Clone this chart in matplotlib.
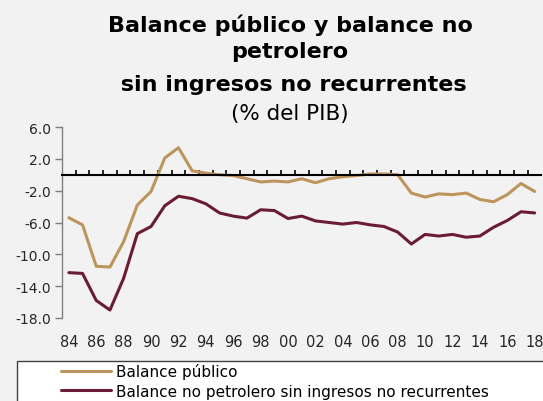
import matplotlib.pyplot as plt
from matplotlib.patches import Rectangle
import numpy as np

years = list(range(1984, 2019))
balance_publico = [-5.4, -6.3, -11.5, -11.6, -8.4, -3.8, -2.1, 2.1, 3.4, 0.5,
                   0.2, 0.0, -0.1, -0.5, -0.9, -0.8, -0.9, -0.5, -1.0, -0.5,
                   -0.25, -0.1, 0.1, 0.1, 0.0, -2.3, -2.8, -2.4, -2.5, -2.3,
                   -3.1, -3.4, -2.5, -1.1, -2.1]
balance_no_petrolero = [-12.3, -12.4, -15.8, -17.0, -13.0, -7.4, -6.5, -3.9, -2.7, -3.0,
                        -3.65, -4.8, -5.2, -5.45, -4.4, -4.5, -5.5, -5.2, -5.8, -6.0,
                        -6.2, -6.0, -6.3, -6.5, -7.2, -8.7, -7.5, -7.7, -7.5, -7.85,
                        -7.7, -6.6, -5.75, -4.65, -4.8]
yticks = [6.0, 2.0, -2.0, -6.0, -10.0, -14.0, -18.0]
series_names = ["Balance público", "Balance no petrolero sin ingresos no recurrentes"]
title_lines = ["Balance público y balance no", "petrolero", " sin ingresos no recurrentes"]
subtitle = "(% del PIB)"

bg = '#f2f2f2'
fig = plt.figure(figsize=(5.43, 4.02), dpi=100, facecolor=bg)
ax = fig.add_axes([62/543, 1-319/402, 479.5/543, 191/402])
ax.set_facecolor(bg)

l1, = ax.plot(years, balance_publico, color='#BC955C', lw=2.2, solid_capstyle='round')
l2, = ax.plot(years, balance_no_petrolero, color='#691C32', lw=2.2, solid_capstyle='round')

ax.set_xlim(1983.5, 2018.5)
ax.set_ylim(-18, 6)
ax.set_yticks(yticks, [f"{v:.1f}" for v in yticks])
for s in ['top', 'right']:
    ax.spines[s].set_visible(False)
ax.spines['bottom'].set_position(('data', 0))
ax.spines['bottom'].set_color('black')
ax.spines['bottom'].set_linewidth(1.5)
ax.spines['left'].set_color('#7f7f7f')
ax.spines['left'].set_linewidth(1.0)
ax.set_xticks(np.arange(1984.5, 2018.5, 1))
ax.tick_params(axis='x', direction='in', length=3.5, width=1.2, color='black', labelbottom=False)
ax.tick_params(axis='y', direction='out', length=5, width=1.0, color='#7f7f7f',
               labelsize=10, labelcolor='#262626', pad=3)

sec = ax.secondary_xaxis(location=-0.06)
sec.spines['bottom'].set_visible(False)
sec.set_xticks(years[::2], [f"{y % 100:02d}" for y in years[::2]])
sec.tick_params(length=0, labelsize=10.5, labelcolor='#262626', pad=3)

cx = 290/543
fig.text(cx, 1-25/402, title_lines[0], ha='center', va='center', fontsize=16, fontweight='bold')
fig.text(cx, 1-52/402, title_lines[1], ha='center', va='center', fontsize=16, fontweight='bold')
fig.text(cx, 1-85/402, title_lines[2], ha='center', va='center', fontsize=16, fontweight='bold')
fig.text(cx, 1-114/402, subtitle, ha='center', va='center', fontsize=15.5)

fig.add_artist(Rectangle((17/543, -0.1), 1.0, 0.1 + 1-362/402, transform=fig.transFigure,
                         facecolor='white', edgecolor='#404040', lw=1.0))
fig.legend([l1, l2], series_names, loc='upper left', bbox_to_anchor=(61/543, 1-364/402),
           frameon=False, handlelength=3.3, handletextpad=0.3, borderpad=0,
           borderaxespad=0, fontsize=11, labelspacing=0.3)

fig.savefig('out.png', dpi=100, facecolor=bg)
